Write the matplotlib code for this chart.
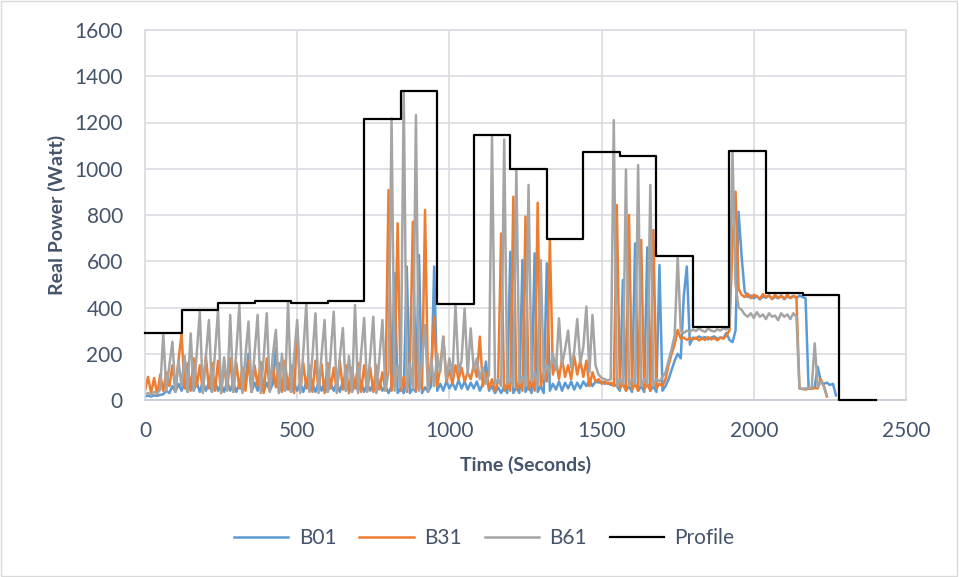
import numpy as np
import matplotlib.pyplot as plt
from matplotlib.patches import Rectangle

plt.rcParams['font.family'] = ['Lato', 'DejaVu Sans']

# sample spacing of the logged series (seconds)
step = 10

# B01, one value every 10 s from t=0
b01 = [
    15, 18, 15, 20, 18, 22, 25, 40, 30, 60,
    35, 70, 40, 75, 35, 80, 40, 75, 35, 80,
    40, 75, 35, 80, 40, 70, 35, 80, 40, 75,
    35, 70, 40, 80, 200, 35, 75, 40, 80, 35,
    75, 40, 70, 225, 35, 75, 40, 80, 35, 70,
    40, 75, 35, 80, 40, 70, 35, 75, 40, 80,
    35, 70, 40, 75, 35, 80, 40, 70, 35, 75,
    40, 80, 35, 70, 40, 75, 35, 80, 40, 60,
    30, 60, 548, 30, 50, 30, 577, 30, 50, 35,
    627, 30, 55, 35, 60, 577, 40, 70, 40, 80,
    50, 75, 45, 85, 50, 80, 45, 75, 50, 80,
    40, 70, 166, 40, 60, 30, 55, 30, 60, 30,
    641, 30, 55, 30, 605, 35, 60, 30, 634, 35,
    60, 30, 591, 40, 70, 45, 80, 40, 75, 50,
    80, 45, 75, 50, 80, 60, 85, 60, 80, 75,
    80, 70, 75, 65, 70, 60, 40, 519, 40, 60,
    35, 677, 40, 60, 35, 660, 40, 60, 35, 584,
    40, 60, 90, 130, 170, 200, 180, 450, 577, 240,
    270, 265, 275, 268, 272, 262, 270, 275, 265, 270,
    268, 290, 260, 250, 300, 814, 620, 470, 445, 452,
    440, 450, 435, 448, 442, 452, 438, 446, 440, 452,
    436, 448, 442, 450, 440, 452, 445, 440, 50, 50,
    55, 144, 80, 70, 75, 65, 70, 20,
]

b31 = [
    40, 100, 30, 95, 25, 110, 40, 120, 60, 150,
    40, 170, 288, 50, 160, 40, 180, 60, 150, 35,
    190, 50, 160, 40, 170, 30, 150, 45, 180, 35,
    160, 50, 140, 40, 170, 35, 150, 60, 165, 30,
    180, 40, 150, 55, 160, 35, 170, 45, 150, 30,
    317, 40, 160, 50, 150, 35, 170, 45, 155, 30,
    160, 50, 140, 35, 170, 45, 150, 30, 140, 50,
    160, 35, 150, 40, 140, 35, 150, 45, 120, 40,
    908, 40, 120, 764, 40, 100, 35, 130, 771, 40,
    120, 45, 822, 40, 130, 360, 60, 140, 274, 80,
    130, 70, 150, 90, 140, 80, 120, 90, 150, 100,
    274, 60, 120, 50, 90, 40, 80, 720, 40, 70,
    40, 879, 45, 80, 40, 793, 45, 90, 40, 853,
    60, 120, 80, 692, 110, 170, 90, 180, 100, 150,
    90, 190, 110, 170, 100, 170, 60, 120, 80, 90,
    70, 80, 70, 75, 60, 843, 50, 70, 40, 800,
    45, 70, 40, 692, 45, 70, 40, 735, 50, 70,
    60, 90, 150, 200, 240, 303, 265, 270, 260, 268,
    262, 270, 258, 266, 260, 272, 262, 268, 258, 270,
    265, 280, 300, 678, 901, 480, 455, 445, 460, 440,
    455, 448, 438, 458, 445, 452, 436, 455, 442, 450,
    438, 455, 440, 450, 445, 50, 48, 45, 50, 48,
    52, 50, 90, 60, 15,
]

b61 = [
    25, 30, 22, 35, 28, 45, 288, 40, 150, 252,
    35, 170, 60, 190, 35, 288, 40, 200, 382, 30,
    190, 346, 35, 205, 389, 30, 185, 40, 368, 35,
    210, 411, 30, 190, 339, 35, 200, 368, 30, 185,
    375, 35, 195, 303, 30, 200, 40, 425, 35, 190,
    346, 30, 205, 418, 35, 190, 375, 30, 195, 346,
    35, 200, 382, 30, 185, 311, 40, 190, 35, 411,
    30, 200, 355, 35, 190, 360, 30, 180, 346, 40,
    120, 1218, 40, 150, 60, 1332, 45, 160, 50, 1232,
    40, 170, 324, 35, 180, 60, 200, 120, 274, 90,
    180, 100, 411, 120, 170, 396, 110, 310, 130, 180,
    90, 140, 70, 110, 1139, 70, 90, 60, 1127, 70,
    90, 60, 995, 70, 100, 60, 930, 80, 120, 60,
    605, 90, 150, 120, 200, 130, 353, 150, 220, 300,
    140, 210, 350, 160, 230, 404, 120, 368, 150, 110,
    95, 90, 85, 90, 1210, 60, 90, 70, 997, 60,
    90, 70, 1016, 60, 90, 70, 930, 60, 90, 80,
    100, 120, 170, 220, 280, 620, 300, 290, 300, 295,
    305, 298, 310, 300, 295, 308, 300, 296, 305, 300,
    310, 305, 320, 1074, 500, 400, 390, 370, 360, 375,
    355, 380, 360, 370, 350, 375, 360, 365, 345, 375,
    360, 370, 350, 375, 360, 50, 48, 50, 52, 50,
    245, 55, 80, 60, 20,
]

# power profile: 120 s steps
profile_t = [0, 120, 240, 360, 480, 600, 720, 840, 960, 1080, 1200,
             1320, 1440, 1560, 1680, 1800, 1920, 2040, 2160, 2280, 2400]
profile_w = [290, 390, 418, 428, 418, 428, 1215, 1337, 415, 1146,
             1000, 697, 1074, 1055, 623, 317, 1077, 464, 454, 0, 0]

fig = plt.figure(figsize=(9.59, 5.77), dpi=100)
ax = fig.add_axes([145 / 959, 1 - 400 / 577, 761 / 959, 370 / 577])

txt = '#44546A'
grid = '#D9DCE2'

for vals, name, col in [(b01, 'B01', '#5B9BD5'),
                        (b31, 'B31', '#ED7D31'),
                        (b61, 'B61', '#A5A5A5')]:
    t = np.arange(len(vals)) * step
    ax.plot(t, vals, color=col, lw=1.8, label=name)

ax.plot(profile_t, profile_w, color='black', lw=1.6,
        drawstyle='steps-post', label='Profile', zorder=5, clip_on=False)

ax.set_xlim(0, 2500)
ax.set_ylim(0, 1600)
ax.set_xticks(range(0, 2501, 500))
ax.set_yticks(range(0, 1601, 200))
ax.grid(True, color=grid, lw=1.2)
ax.set_axisbelow(True)
for s in ax.spines.values():
    s.set_color(grid)
    s.set_linewidth(1.2)
ax.spines['bottom'].set_color('#C5CAD3')
ax.tick_params(length=0, labelsize=15, labelcolor=txt)
ax.tick_params(axis='y', pad=16)
ax.tick_params(axis='x', pad=15)

ax.set_xlabel('Time (Seconds)', fontsize=14, fontweight='bold', color=txt, labelpad=11)
ax.set_ylabel('Real Power (Watt)', fontsize=14, fontweight='bold', color=txt, labelpad=6)

fig.legend(loc='center', bbox_to_anchor=(0.505, 1 - 538 / 577), ncol=4,
           frameon=False, fontsize=15, labelcolor=txt, handlelength=2.6,
           handletextpad=0.5, columnspacing=1.1)

fig.patches.append(Rectangle((0.001, 0.002), 0.997, 0.996, transform=fig.transFigure,
                             fill=False, ec='#D9D9D9', lw=1))

fig.savefig('out.png', dpi=100)
